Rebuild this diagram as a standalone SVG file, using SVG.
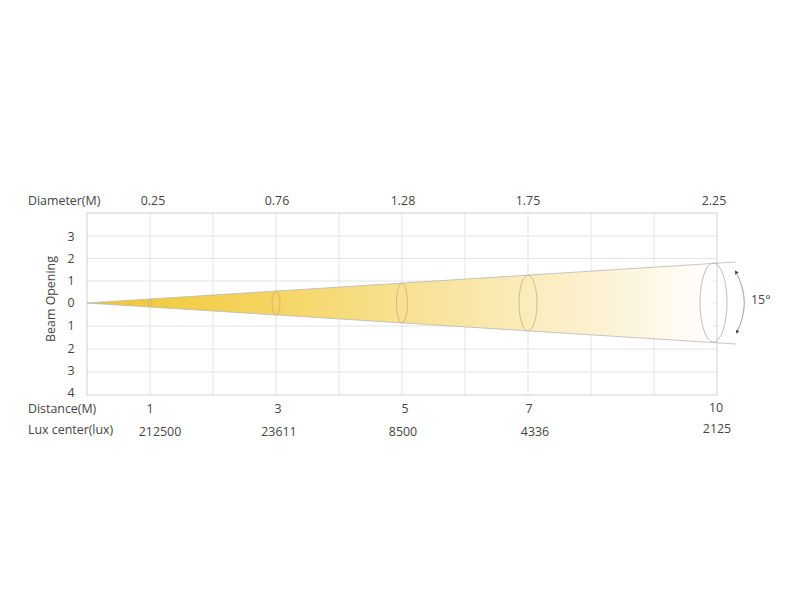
<svg xmlns="http://www.w3.org/2000/svg" width="800" height="600" viewBox="0 0 800 600">
<style>
  text { font-family: "Open Sans", "Liberation Sans", sans-serif; font-size: 12.4px; fill: #444; }
  .mid { text-anchor: middle; }
  .grid line { stroke: #e3e3e3; stroke-width: 1; }
  .frame { stroke: #d0d0d0; stroke-width: 1; fill: none; }
  .edge { stroke: #b8b8b8; stroke-width: 0.8; fill: none; }
  .ring { fill: none; stroke: #c9b680; stroke-width: 0.9; }
  .ringEnd { fill: none; stroke: #b5b5b5; stroke-width: 0.9; }
</style>
<defs>
  <linearGradient id="beamGrad" gradientUnits="userSpaceOnUse" x1="87" y1="0" x2="713" y2="0">
    <stop offset="0" stop-color="#f1c62c"/>
    <stop offset="0.3" stop-color="#f5d563"/>
    <stop offset="0.6" stop-color="#f9e6a6"/>
    <stop offset="0.84" stop-color="#fcf3d6"/>
    <stop offset="1" stop-color="#ffffff"/>
  </linearGradient>
  <marker id="arr" viewBox="0 0 10 10" refX="5" refY="5" markerWidth="5" markerHeight="5" orient="auto-start-reverse">
    <path d="M0,0 L10,5 L0,10 z" fill="#444"/>
  </marker>
</defs>
<rect width="800" height="600" fill="#ffffff"/>

<g id="grid" class="grid">
  <line x1="150" y1="213" x2="150" y2="395"/>
  <line x1="213" y1="213" x2="213" y2="395"/>
  <line x1="276" y1="213" x2="276" y2="395"/>
  <line x1="339" y1="213" x2="339" y2="395"/>
  <line x1="402" y1="213" x2="402" y2="395"/>
  <line x1="465" y1="213" x2="465" y2="395"/>
  <line x1="528" y1="213" x2="528" y2="395"/>
  <line x1="591" y1="213" x2="591" y2="395"/>
  <line x1="654" y1="213" x2="654" y2="395"/>
  <line x1="87" y1="236" x2="717" y2="236"/>
  <line x1="87" y1="258.5" x2="717" y2="258.5"/>
  <line x1="87" y1="281" x2="717" y2="281"/>
  <line x1="87" y1="303" x2="717" y2="303"/>
  <line x1="87" y1="326" x2="717" y2="326"/>
  <line x1="87" y1="349" x2="717" y2="349"/>
  <line x1="87" y1="372" x2="717" y2="372"/>
</g>
<rect class="frame" x="87" y="213" width="630" height="182"/>

<g id="beam">
  <polygon points="87,303 713,263.5 713,342.5" fill="url(#beamGrad)"/>
  <line class="edge" x1="87" y1="303" x2="736" y2="262"/>
  <line class="edge" x1="87" y1="303" x2="736" y2="344"/>
  <ellipse class="ring" cx="150" cy="303" rx="1.6" ry="4"/>
  <ellipse class="ring" cx="276" cy="303" rx="4" ry="11.9"/>
  <ellipse class="ring" cx="402" cy="303" rx="5.5" ry="19.9"/>
  <ellipse class="ring" cx="528" cy="303" rx="9" ry="27.8"/>
  <ellipse class="ringEnd" cx="713.5" cy="302.5" rx="13.5" ry="39.5"/>
</g>

<g id="angle">
  <path d="M736,272 Q752,302 737,332" fill="none" stroke="#888" stroke-width="0.8" marker-start="url(#arr)" marker-end="url(#arr)"/>
  <text x="751" y="304">15°</text>
</g>

<g id="labels">
  <text x="28" y="205">Diameter(M)</text>
  <text class="mid" x="153" y="205">0.25</text>
  <text class="mid" x="277" y="205">0.76</text>
  <text class="mid" x="403" y="205">1.28</text>
  <text class="mid" x="528" y="205">1.75</text>
  <text class="mid" x="714" y="205">2.25</text>

  <text class="mid" x="71" y="241">3</text>
  <text class="mid" x="71" y="263">2</text>
  <text class="mid" x="71" y="285">1</text>
  <text class="mid" x="71" y="307">0</text>
  <text class="mid" x="71" y="330">1</text>
  <text class="mid" x="71" y="353">2</text>
  <text class="mid" x="71" y="375">3</text>
  <text class="mid" x="71" y="397">4</text>
  <text class="mid" x="55" y="299" font-size="11" transform="rotate(-90 55 299)">Beam Opening</text>

  <text x="28" y="413">Distance(M)</text>
  <text class="mid" x="150" y="413">1</text>
  <text class="mid" x="278" y="413">3</text>
  <text class="mid" x="405" y="413">5</text>
  <text class="mid" x="529" y="413">7</text>
  <text class="mid" x="716" y="412">10</text>

  <text x="28" y="434">Lux center(lux)</text>
  <text class="mid" x="160" y="436">212500</text>
  <text class="mid" x="279" y="436">23611</text>
  <text class="mid" x="403" y="436">8500</text>
  <text class="mid" x="535" y="436">4336</text>
  <text class="mid" x="717" y="433">2125</text>
</g>
</svg>
